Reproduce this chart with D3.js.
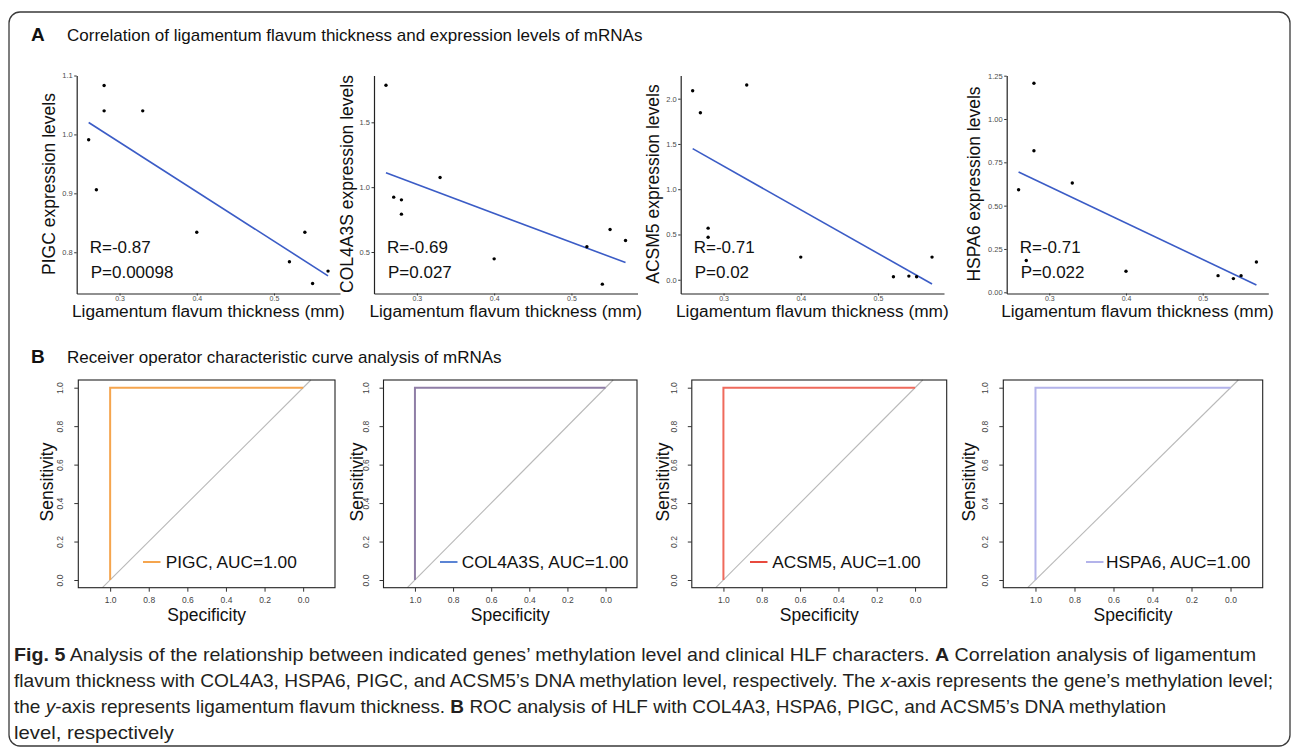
<!DOCTYPE html>
<html><head><meta charset="utf-8">
<script src="https://cdn.jsdelivr.net/npm/d3@7"></script>
<style>
body{margin:0;background:#fff;}
svg{display:block;}
text{font-family:"Liberation Sans",Arial,Helvetica,sans-serif;white-space:pre;}
</style>
</head><body>
<svg id="c" width="1293" height="751"></svg>
<script>
// ---------------- data ----------------
const thickness = [0.26, 0.27, 0.28, 0.28, 0.33, 0.40, 0.52, 0.54, 0.55, 0.57];
const genes = ["PIGC", "COL4A3S", "ACSM5", "HSPA6"];
const pigcExpr    = [0.991, 0.906, 1.083, 1.040, 1.040, 0.834, 0.784, 0.834, 0.747, 0.768];
const col4a3sExpr = [1.786, 0.923, 0.902, 0.792, 1.075, 0.447, 0.540, 0.252, 0.674, 0.589];
const acsm5Expr   = [2.088, 1.845, 0.570, 0.470, 2.151, 0.250, 0.033, 0.040, 0.033, 0.250];
const hspa6Expr   = [0.592, 0.183, 1.206, 0.817, 0.631, 0.121, 0.096, 0.079, 0.096, 0.175];
const rLabels = ["R=-0.87", "R=-0.69", "R=-0.71", "R=-0.71"];
const pLabels = ["P=0.00098", "P=0.027", "P=0.02", "P=0.022"];
const xTickVals = [0.3, 0.4, 0.5];
const yTicksPIGC = [0.8, 0.9, 1.0, 1.1];
const yTicksCOL = [0.5, 1.0, 1.5];
const yTicksACSM = [0.0, 0.5, 1.0, 1.5, 2.0];
const yTicksHSPA = [0.00, 0.25, 0.50, 0.75, 1.00, 1.25];
const rocSpecificity = [1.0, 1.0, 0.0];
const rocSensitivity = [0.0, 1.0, 1.0];
const rocTicks = [0.0, 0.2, 0.4, 0.6, 0.8, 1.0];
const aucLabels = ["PIGC, AUC=1.00", "COL4A3S, AUC=1.00", "ACSM5, AUC=1.00", "HSPA6, AUC=1.00"];

// ---------------- layout / style ----------------
const svg = d3.select("#c");
const FONT = '"Liberation Sans",Arial,sans-serif';

svg.append("rect").attr("x", 9).attr("y", 12).attr("width", 1281).attr("height", 734)
  .attr("rx", 11).attr("fill", "none").attr("stroke", "#3a3a3a").attr("stroke-width", 1.3);

function header(y, letter, txt) {
  svg.append("text").attr("x", 31).attr("y", y).attr("font-size", 19).attr("font-weight", "bold")
    .attr("fill", "#111").text(letter);
  svg.append("text").attr("x", 67).attr("y", y).attr("font-size", 17).attr("fill", "#111").text(txt);
}
header(41, "A", "Correlation of ligamentum flavum thickness and expression levels of mRNAs");
header(363, "B", "Receiver operator characteristic curve analysis of mRNAs");

// ---------------- scatter panels ----------------
const scatterCfg = [
  {vals: pigcExpr,    yDom: [0.730, 1.100], ticks: yTicksPIGC, fmt: ".1f", x0: 76.7,  x1: 340,    ytx: 49},
  {vals: col4a3sExpr, yDom: [0.180, 1.861], ticks: yTicksCOL,  fmt: ".1f", x0: 374,   x1: 637.5,  ytx: 346.5},
  {vals: acsm5Expr,   yDom: [-0.152, 2.256], ticks: yTicksACSM, fmt: ".1f", x0: 680.7, x1: 944,   ytx: 652.5},
  {vals: hspa6Expr,   yDom: [-0.007, 1.251], ticks: yTicksHSPA, fmt: ".2f", x0: 1006.7, x1: 1268.3, ytx: 973.5}
];
const TOP = 75.5, BOT = 293.5;

scatterCfg.forEach((c, i) => {
  const x = d3.scaleLinear().domain([0.2445, 0.5855]).range([c.x0, c.x1]);
  const y = d3.scaleLinear().domain(c.yDom).range([BOT, TOP]);
  const g = svg.append("g");

  const ax = g.append("g").attr("transform", `translate(0,${BOT})`)
    .call(d3.axisBottom(x).tickValues(xTickVals).tickFormat(d3.format(".1f")).tickSize(2).tickSizeOuter(0).tickPadding(0.5));
  const ay = g.append("g").attr("transform", `translate(${c.x0},0)`)
    .call(d3.axisLeft(y).tickValues(c.ticks).tickFormat(d3.format(c.fmt)).tickSize(2.5).tickSizeOuter(0).tickPadding(1.5));
  [ax, ay].forEach(a => {
    a.select(".domain").attr("stroke", "#222").attr("stroke-width", 1.2);
    a.selectAll(".tick line").attr("stroke", "#333").attr("stroke-width", 1);
    a.selectAll(".tick text").attr("fill", "#4d4d4d").attr("font-size", 7.5).attr("font-family", FONT);
  });
  ax.selectAll(".tick text").attr("font-size", 7);

  // linear fit (least squares, like geom_smooth(method = "lm"))
  const pts = thickness.map((t, k) => [t, c.vals[k]]);
  const mx = d3.mean(thickness), my = d3.mean(c.vals);
  const sxy = d3.sum(pts, p => (p[0] - mx) * (p[1] - my));
  const sxx = d3.sum(pts, p => (p[0] - mx) ** 2);
  const b = sxy / sxx, a0 = my - b * mx;
  const xe = d3.extent(thickness);
  g.append("path").datum(xe.map(t => [t, a0 + b * t]))
    .attr("d", d3.line().x(d => x(d[0])).y(d => y(d[1])))
    .attr("stroke", "#3b5cc6").attr("stroke-width", 1.6).attr("fill", "none");

  g.selectAll("circle").data(pts).join("circle")
    .attr("cx", d => x(d[0])).attr("cy", d => y(d[1])).attr("r", 1.7).attr("fill", "#000");

  g.append("text").attr("x", c.x0 + 13).attr("y", 253).attr("font-size", 17).attr("fill", "#111").text(rLabels[i]);
  g.append("text").attr("x", c.x0 + 14).attr("y", 278).attr("font-size", 17).attr("fill", "#111").text(pLabels[i]);

  g.append("text").attr("transform", `translate(${c.ytx + 6},184) rotate(-90)`)
    .attr("text-anchor", "middle").attr("font-size", 17.5).attr("fill", "#111")
    .text(genes[i] + " expression levels");
  g.append("text").attr("x", (c.x0 + c.x1) / 2).attr("y", 317).attr("text-anchor", "middle")
    .attr("font-size", 17.3).attr("fill", "#111").text("Ligamentum flavum thickness (mm)");
});

// ---------------- ROC panels ----------------
const rocCfg = [
  {x0: 78.3,   x1: 335,    curve: "#f5a54e", leg: "#f5a54e", legX: 143,  txtX: 165.7, sensX: 46.7},
  {x0: 383.5,  x1: 637,    curve: "#8f7ea6", leg: "#5b84d4", legX: 440,  txtX: 461.7, sensX: 356.7},
  {x0: 691.8,  x1: 946.7,  curve: "#ef6a5c", leg: "#e84a3e", legX: 750,  txtX: 772.3, sensX: 662.5},
  {x0: 1003.3, x1: 1262.7, curve: "#b3b3ea", leg: "#b3b3ea", legX: 1086, txtX: 1106,  sensX: 969.3}
];
const RT = 380, RB = 587.7;

rocCfg.forEach((c, i) => {
  const x = d3.scaleLinear().domain([1.165, -0.165]).range([c.x0, c.x1]);
  const y = d3.scaleLinear().domain([-0.04, 1.04]).range([RB, RT]);
  const g = svg.append("g");

  // diagonal reference line, clipped to the plot box
  g.append("line").attr("x1", x(1.04)).attr("y1", y(-0.04)).attr("x2", x(-0.04)).attr("y2", y(1.04))
    .attr("stroke", "#b9b9b9").attr("stroke-width", 1.1);

  g.append("path").datum(rocSpecificity.map((s, k) => [s, rocSensitivity[k]]))
    .attr("d", d3.line().x(d => x(d[0])).y(d => y(d[1])))
    .attr("fill", "none").attr("stroke", c.curve).attr("stroke-width", 2);

  g.append("rect").attr("x", c.x0).attr("y", RT).attr("width", c.x1 - c.x0).attr("height", RB - RT)
    .attr("fill", "none").attr("stroke", "#222").attr("stroke-width", 1.1);

  const ax = g.append("g").attr("transform", `translate(0,${RB})`)
    .call(d3.axisBottom(x).tickValues(rocTicks).tickFormat(d3.format(".1f")).tickSize(4).tickSizeOuter(0).tickPadding(5));
  const ay = g.append("g").attr("transform", `translate(${c.x0},0)`)
    .call(d3.axisLeft(y).tickValues(rocTicks).tickFormat(d3.format(".1f")).tickSize(4).tickSizeOuter(0));
  [ax, ay].forEach(a => {
    a.select(".domain").remove();
    a.selectAll(".tick line").attr("stroke", "#333");
    a.selectAll(".tick text").attr("fill", "#444").attr("font-size", 8.5).attr("font-family", FONT);
  });
  ay.selectAll(".tick text").attr("x", null).attr("dy", null)
    .attr("text-anchor", "middle").attr("transform", "translate(-15,0) rotate(-90)");

  g.append("text").attr("x", (c.x0 + c.x1) / 2).attr("y", 621).attr("text-anchor", "middle")
    .attr("font-size", 17.5).attr("fill", "#111").text("Specificity");
  g.append("text").attr("transform", `translate(${c.sensX + 6},482) rotate(-90)`)
    .attr("text-anchor", "middle").attr("font-size", 17.5).attr("fill", "#111").text("Sensitivity");

  g.append("line").attr("x1", c.legX).attr("x2", c.legX + 17.5).attr("y1", 562).attr("y2", 562)
    .attr("stroke", c.leg).attr("stroke-width", 2);
  g.append("text").attr("x", c.txtX).attr("y", 568).attr("font-size", 17.3).attr("fill", "#111").text(aucLabels[i]);
});

// ---------------- caption ----------------
const captionLines = [
  {y: 661, w: 1242, parts: [["Fig. 5", "b"], [" Analysis of the relationship between indicated genes’ methylation level and clinical HLF characters. ", ""], ["A", "b"], [" Correlation analysis of ligamentum", ""]]},
  {y: 687, w: 1259, parts: [["flavum thickness with COL4A3, HSPA6, PIGC, and ACSM5’s DNA methylation level, respectively. The ", ""], ["x", "i"], ["-axis represents the gene’s methylation level;", ""]]},
  {y: 713, w: 1152, parts: [["the ", ""], ["y", "i"], ["-axis represents ligamentum flavum thickness. ", ""], ["B", "b"], [" ROC analysis of HLF with COL4A3, HSPA6, PIGC, and ACSM5’s DNA methylation", ""]]},
  {y: 739, w: 160, parts: [["level, respectively", ""]]}
];
captionLines.forEach(l => {
  const t = svg.append("text").attr("x", 14).attr("y", l.y).attr("font-size", 19).attr("fill", "#231f20")
    .attr("textLength", l.w).attr("lengthAdjust", "spacingAndGlyphs");
  l.parts.forEach(p => {
    t.append("tspan").text(p[0])
      .attr("font-weight", p[1] === "b" ? "bold" : null)
      .attr("font-style", p[1] === "i" ? "italic" : null);
  });
});
</script>
</body></html>
